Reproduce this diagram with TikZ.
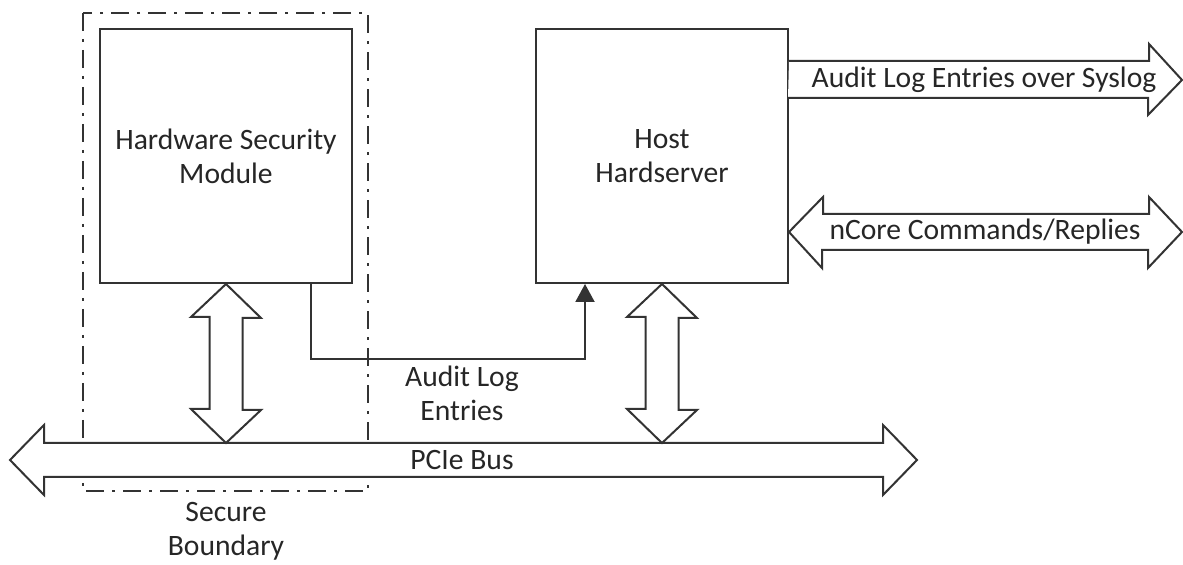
\documentclass[tikz,border=0pt]{standalone}
\usepackage{fontspec}
\setmainfont{Carlito}
\usepackage{xcolor}
\usetikzlibrary{arrows.meta}

\definecolor{linegray}{HTML}{333333}
\definecolor{textgray}{HTML}{262626}

\tikzset{
  box/.style={draw=linegray, line width=1pt, minimum width=126pt, minimum height=127pt, align=center, inner sep=0pt},
  blockarrow/.style={draw=linegray, line width=1pt, fill=white, line join=miter},
  boundary/.style={draw=linegray, line width=0.8pt, dash pattern=on 9pt off 4pt on 1.5pt off 4pt},
  txt/.style={align=center, inner sep=0pt},
}

\begin{document}
\begin{tikzpicture}[x=0.5pt, y=-0.5pt, font=\fontsize{14.8}{17}\selectfont, text=textgray]
                \useasboundingbox (0,0) rectangle (1183,565);

                % secure boundary
                \draw[boundary] (83,13) rectangle (368,491);

                \node[box] (hsm) at (226,156) {Hardware Security\\Module};
                \node[box] (host) at (662,156) {Host\\Hardserver};

                \coordinate (busl) at (10,460);
                \coordinate (busr) at (917,460);
                \coordinate (bustop) at (0,443);
                \coordinate (syslog) at (1182,80);
                \coordinate (ncore) at (1182,232);

                % PCIe bus
                \draw[blockarrow] (busl) -- ++(34,-35) -- ++(0,18) -- ++(839,0) -- ++(0,-18) -- (busr)
                -- ++(-34,35) -- ++(0,-18) -- ++(-839,0) -- ++(0,18) -- cycle;
                \node[txt] (bus) at (462,460) {PCIe Bus};

                % links to the bus
                \draw[blockarrow] (hsm.south) -- ++(35,34) -- ++(-18.5,0) -- ++(0,92) -- ++(18.5,0) -- (hsm.south |- bustop)
                -- ++(-35,-34) -- ++(18.5,0) -- ++(0,-92) -- ++(-18.5,0) -- cycle;
                \draw[blockarrow] (host.south) -- ++(35,34) -- ++(-18.5,0) -- ++(0,92) -- ++(18.5,0) -- (host.south |- bustop)
                -- ++(-35,-34) -- ++(18.5,0) -- ++(0,-92) -- ++(-18.5,0) -- cycle;

                % audit log path
                \draw[draw=linegray, line width=1pt, -{Triangle[width=9.5pt,length=9pt]}]
                ([xshift=-21pt]hsm.south east) -- ++(0,75) -| ([xshift=25pt]host.south west);
                \node[txt] (audit) at (462,393) {Audit Log\\Entries};

                % outputs of the host
                \draw[blockarrow] ([yshift=-16.5pt]host.north east) -- ++(360,0) -- ++(0,-17) -- (syslog)
                -- ++(-34,35) -- ++(0,-17) -- ++(-360,0);
                \node[txt] (syslogtxt) at (984,80) {Audit Log Entries over Syslog};

                \draw[blockarrow] ([yshift=-38pt]host.east) -- ++(34,-35) -- ++(0,17) -- ++(326,0) -- ++(0,-17) -- (ncore)
                -- ++(-34,36) -- ++(0,-18) -- ++(-326,0) -- ++(0,18) -- cycle;
                \node[txt] (ncoretxt) at (985,232) {nCore Commands/Replies};

                \node[txt] (secure) at (226,531) {Secure\\Boundary};
            \end{tikzpicture}
\end{document}
